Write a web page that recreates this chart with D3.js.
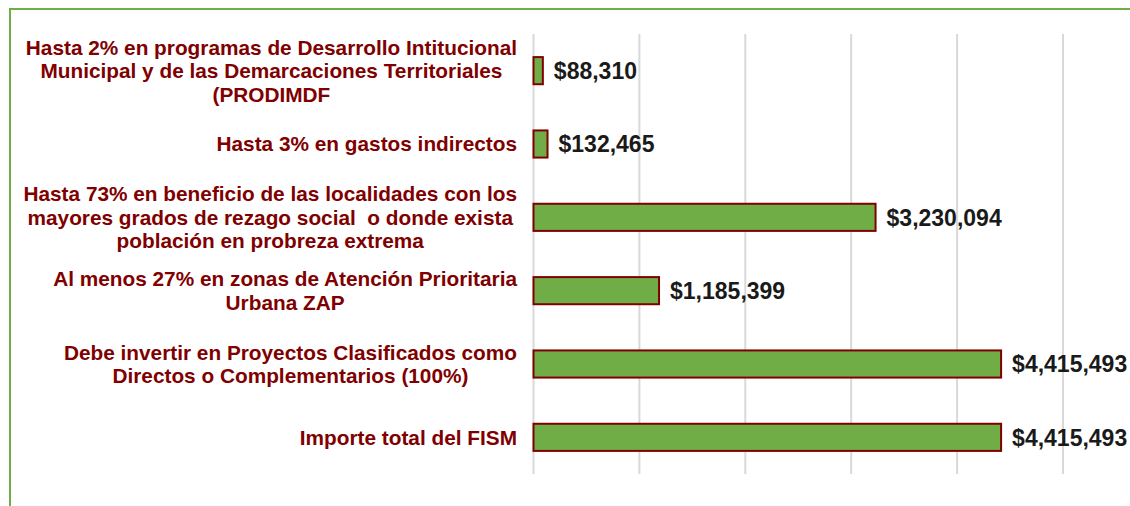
<!DOCTYPE html>
<html>
<head>
<meta charset="utf-8">
<script src="https://cdn.jsdelivr.net/npm/d3@7"></script>
<style>
    body { margin: 0; background: #fff; }
    svg { display: block; font-family: "Liberation Sans", Arial, sans-serif; }
    text, tspan { white-space: pre; }
</style>
</head>
<body>
<svg id="chart" width="1130" height="506"></svg>
<script>
// ========== Data ==========

const categories = [
    ["Hasta 2% en programas de Desarrollo Intitucional", "Municipal y de las Demarcaciones Territoriales", "(PRODIMDF"],
    ["Hasta 3% en gastos indirectos"],
    ["Hasta 73% en beneficio de las localidades con los", "mayores grados de rezago social  o donde exista", "población en probreza extrema"],
    ["Al menos 27% en zonas de Atención Prioritaria", "Urbana ZAP"],
    ["Debe invertir en Proyectos Clasificados como", "Directos o Complementarios (100%)"],
    ["Importe total del FISM"]
];

const values = [88310, 132465, 3230094, 1185399, 4415493, 4415493];

const xTicks = [0, 1000000, 2000000, 3000000, 4000000, 5000000];

// ========== Chart ==========

const svg = d3.select("#chart");

// outer chart-area border (green, runs off the right and bottom edges)
svg.append("rect")
    .attr("x", 10)
    .attr("y", 9)
    .attr("width", 1300)
    .attr("height", 700)
    .attr("fill", "#fff")
    .attr("stroke", "#70ad47")
    .attr("stroke-width", 2);

const plot = { left: 533.5, right: 1063, top: 34, bottom: 474 };

const x = d3.scaleLinear()
    .domain([0, 5000000])
    .range([plot.left, plot.right]);

const y = d3.scaleBand()
    .domain(d3.range(categories.length))
    .range([plot.top, plot.bottom])
    .paddingInner(0.63)
    .paddingOuter(0.315);

// gridlines
svg.append("g")
    .selectAll("line")
    .data(xTicks)
    .join("line")
    .attr("x1", d => x(d))
    .attr("x2", d => x(d))
    .attr("y1", plot.top)
    .attr("y2", plot.bottom)
    .attr("stroke", "#d9d9d9")
    .attr("stroke-width", 2);

// bars
svg.append("g")
    .selectAll("rect")
    .data(values)
    .join("rect")
    .attr("x", x(0))
    .attr("y", (d, i) => y(i))
    .attr("width", d => x(d) - x(0))
    .attr("height", y.bandwidth())
    .attr("fill", "#70ad47")
    .attr("stroke", "#7f0000")
    .attr("stroke-width", 2);

// value labels
const fmt = d3.format(",");
svg.append("g")
    .selectAll("text")
    .data(values)
    .join("text")
    .attr("x", d => x(d) + 11)
    .attr("y", (d, i) => y(i) + y.bandwidth() / 2)
    .attr("dy", "0.36em")
    .attr("font-size", "23px")
    .attr("font-weight", "bold")
    .attr("fill", "#1a1a1a")
    .text(d => "$" + fmt(d));

// category labels: lines centred inside a block that is right-aligned
const labelRight = 517;
const lineHeight = 23.5;
const labelFont = 20.8;

const labels = svg.append("g")
    .selectAll("text")
    .data(categories)
    .join("text")
    .attr("font-size", labelFont + "px")
    .attr("font-weight", "bold")
    .attr("fill", "#800000")
    .attr("text-anchor", "middle");

labels.each(function(lines, i) {
    const t = d3.select(this);
    const cy = y(i) + y.bandwidth() / 2;
    const spans = t.selectAll("tspan")
        .data(lines)
        .join("tspan")
        .attr("y", (d, j) => cy + (j - (lines.length - 1) / 2) * lineHeight)
        .attr("dy", "0.36em")
        .text(d => d);
    let maxW = 0;
    spans.each(function() { maxW = Math.max(maxW, this.getComputedTextLength()); });
    spans.attr("x", labelRight - maxW / 2);
});
</script>
</body>
</html>
